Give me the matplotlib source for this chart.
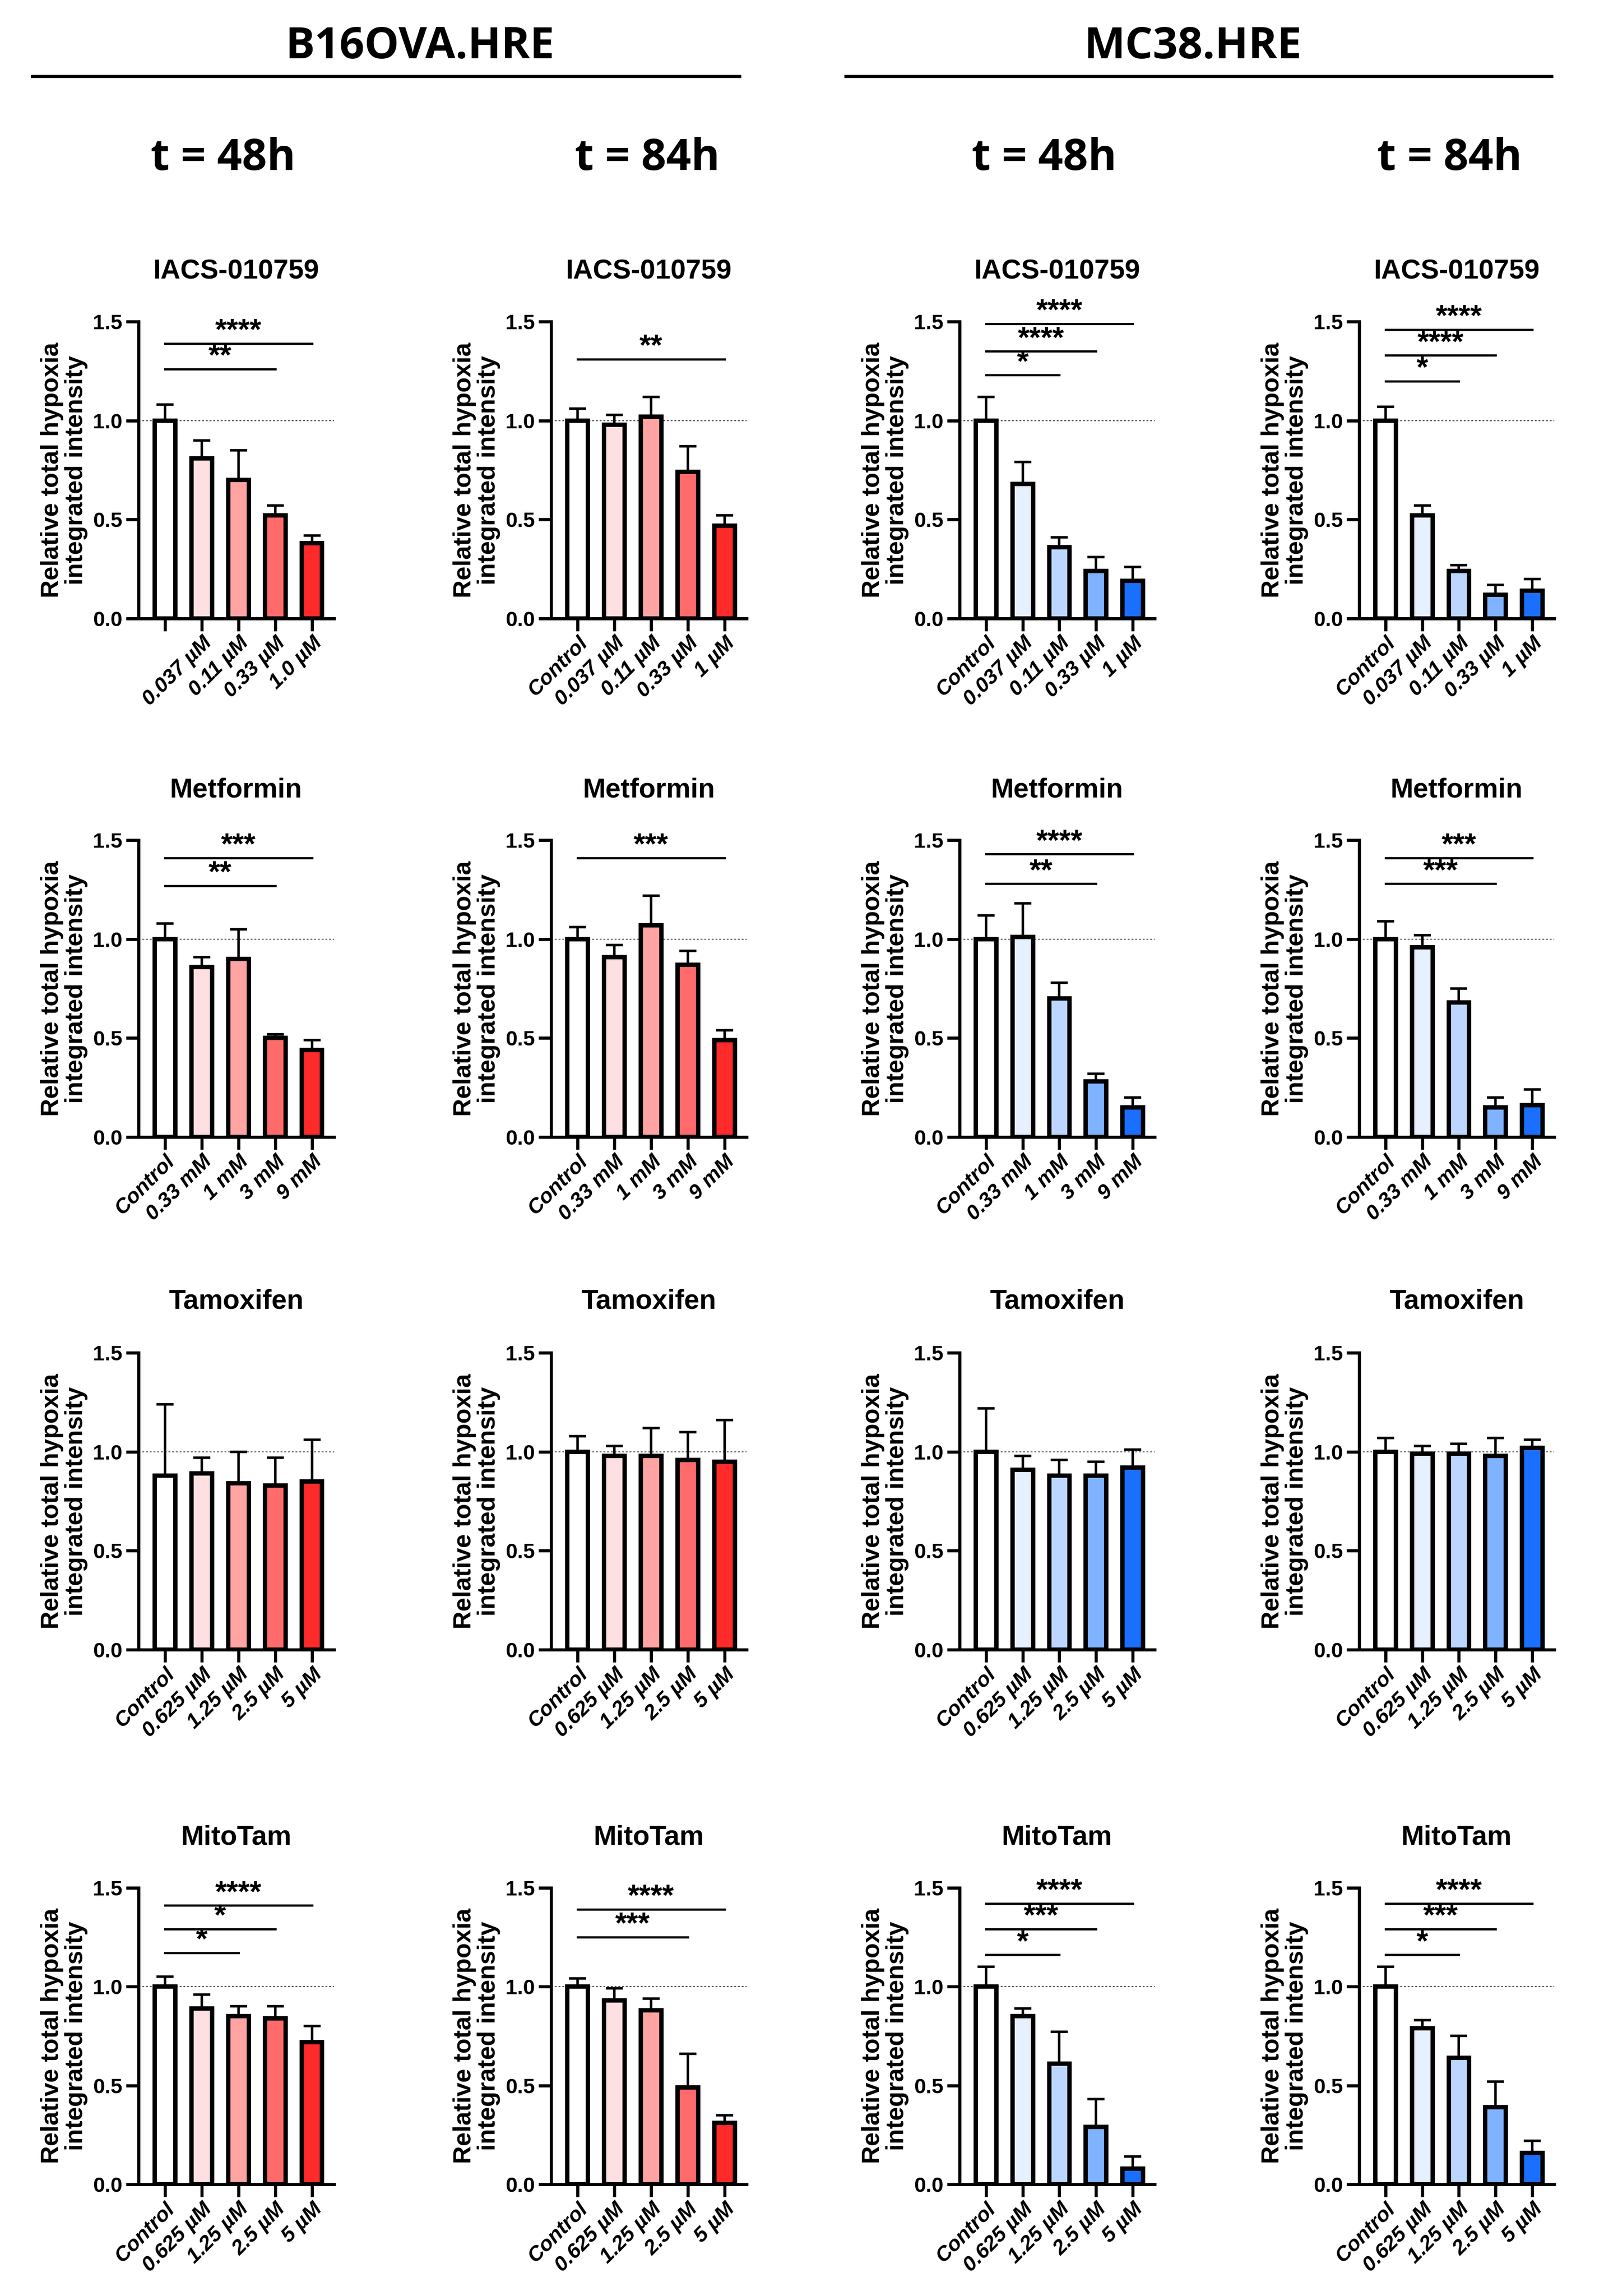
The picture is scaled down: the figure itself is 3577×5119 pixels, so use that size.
import matplotlib
matplotlib.use("Agg")
import matplotlib.pyplot as plt

NARROW = ['Liberation Sans Narrow', 'Liberation Sans', 'DejaVu Sans']
ARIAL = ['Liberation Sans', 'DejaVu Sans']

REDS = ['#ffffff', '#ffe0e2', '#ffa3a3', '#ff6b6b', '#ff2a2a']
BLUES = ['#ffffff', '#e6f0ff', '#bcd6ff', '#7fb2ff', '#1a6fff']

iacs_b16_labels = ['', '0.037 µM', '0.11 µM', '0.33 µM', '1.0 µM']
iacs_labels = ['Control', '0.037 µM', '0.11 µM', '0.33 µM', '1 µM']
met_labels = ['Control', '0.33 mM', '1 mM', '3 mM', '9 mM']
tam_labels = ['Control', '0.625 µM', '1.25 µM', '2.5 µM', '5 µM']

drugs = ['IACS-010759', 'Metformin', 'Tamoxifen', 'MitoTam']

# rows: drug, cols: B16 48h, B16 84h, MC38 48h, MC38 84h
means = [
    [[1.0, .81, .70, .52, .38], [1.0, .98, 1.02, .74, .47],
     [1.0, .68, .36, .24, .19], [1.0, .52, .24, .12, .14]],
    [[1.0, .86, .90, .50, .44], [1.0, .91, 1.07, .87, .49],
     [1.0, 1.01, .70, .28, .15], [1.0, .96, .68, .15, .16]],
    [[.88, .89, .84, .83, .85], [1.0, .98, .98, .96, .95],
     [1.0, .91, .88, .88, .92], [1.0, .99, .99, .98, 1.02]],
    [[1.0, .89, .85, .84, .72], [1.0, .93, .88, .49, .31],
     [1.0, .85, .61, .29, .08], [1.0, .79, .64, .39, .16]],
]
errs = [
    [[.08, .09, .15, .05, .04], [.06, .05, .10, .13, .05],
     [.12, .11, .05, .07, .07], [.07, .05, .03, .05, .06]],
    [[.08, .05, .15, .02, .05], [.06, .06, .15, .07, .05],
     [.12, .17, .08, .04, .05], [.09, .06, .07, .05, .08]],
    [[.36, .08, .16, .14, .21], [.08, .05, .14, .14, .21],
     [.22, .07, .08, .07, .09], [.07, .04, .05, .09, .04]],
    [[.05, .07, .05, .06, .08], [.04, .06, .06, .17, .04],
     [.10, .04, .16, .14, .06], [.10, .04, .11, .13, .06]],
]
# significance: (end bar, y, stars), all start from bar 0
sigs = [
    [[(4, 1.39, '****'), (3, 1.26, '**')], [(4, 1.31, '**')],
     [(4, 1.49, '****'), (3, 1.35, '****'), (2, 1.23, '*')],
     [(4, 1.46, '****'), (3, 1.33, '****'), (2, 1.20, '*')]],
    [[(4, 1.41, '***'), (3, 1.27, '**')], [(4, 1.41, '***')],
     [(4, 1.43, '****'), (3, 1.28, '**')],
     [(4, 1.41, '***'), (3, 1.28, '***')]],
    [[], [], [], []],
    [[(4, 1.41, '****'), (3, 1.29, '*'), (2, 1.17, '*')],
     [(4, 1.39, '****'), (3, 1.25, '***')],
     [(4, 1.42, '****'), (3, 1.29, '***'), (2, 1.16, '*')],
     [(4, 1.42, '****'), (3, 1.29, '***'), (2, 1.16, '*')]],
]
row_labels = [[iacs_b16_labels, iacs_labels, iacs_labels, iacs_labels],
              [met_labels] * 4, [tam_labels] * 4, [tam_labels] * 4]

W, H = 1100.0, 1563.0
col_x = [95, 378, 658, 932]
row_top = [219, 572, 921, 1285]
ax_w, ax_h = 134, 202
title_y = [185, 538, 886, 1251]

fig = plt.figure(figsize=(35.77, 51.19), dpi=100)

for r in range(4):
    for c in range(4):
        left = col_x[c] / W
        bottom = 1 - (row_top[r] + ax_h) / H
        ax = fig.add_axes([left, bottom, ax_w / W, ax_h / H])
        cols = REDS if c < 2 else BLUES
        x = range(5)
        ax.bar(x, means[r][c], 0.56, color=cols, edgecolor='black',
               linewidth=7, zorder=3)
        ax.errorbar(x, means[r][c], yerr=[[0] * 5, errs[r][c]], fmt='none',
                    ecolor='black', elinewidth=4, capsize=14, capthick=4,
                    zorder=2)
        ax.axhline(1.0, color='#444444', ls=(0, (2, 2)), lw=1.5, zorder=1)
        for end, y, s in sigs[r][c]:
            ax.plot([0, end], [y, y], color='black', lw=3.5, clip_on=False)
            ax.text(end / 2, y - 0.01, s, ha='center', va='bottom',
                    fontsize=48, fontweight='bold', family=ARIAL)
        ax.set_xlim(-0.72, 4.6)
        ax.set_ylim(0, 1.5)
        ax.set_yticks([0, 0.5, 1.0, 1.5])
        ax.set_yticklabels(['0.0', '0.5', '1.0', '1.5'])
        ax.set_xticks(list(x))
        ax.set_xticklabels(row_labels[r][c], rotation=45, ha='right',
                           rotation_mode='anchor', fontstyle='italic')
        for lab in ax.get_xticklabels() + ax.get_yticklabels():
            lab.set_family(NARROW)
            lab.set_fontweight('bold')
            lab.set_fontsize(34)
        ax.tick_params(axis='both', width=5, length=20, direction='out')
        ax.tick_params(axis='y', pad=6)
        ax.spines['top'].set_visible(False)
        ax.spines['right'].set_visible(False)
        ax.spines['left'].set_linewidth(5)
        ax.spines['bottom'].set_linewidth(5)
        ax.set_ylabel('Relative total hypoxia\nintegrated intensity',
                      fontsize=40, fontweight='bold', family=ARIAL,
                      labelpad=8, linespacing=1.05)
        fig.text((col_x[c] + ax_w / 2) / W, 1 - title_y[r] / H,
                 drugs[r], ha='center', va='center', fontsize=44,
                 fontweight='bold', family=ARIAL)

# headers
for name, xc, x0, x1 in [('B16OVA.HRE', 288, 22, 507),
                         ('MC38.HRE', 818, 580, 1064)]:
    fig.text(xc / W, 1 - 32 / H, name, ha='center', va='center',
             fontsize=70, fontweight='bold', family=['Open Sans', 'DejaVu Sans'])
    fig.add_artist(plt.Line2D([x0 / W, x1 / W], [1 - 52 / H, 1 - 52 / H],
                              color='black', lw=5))
for tx, lab in zip([153, 444, 716, 994], ['t = 48h', 't = 84h', 't = 48h', 't = 84h']):
    fig.text(tx / W, 1 - 108 / H, lab, ha='center', va='center',
             fontsize=70, fontweight='bold', family=['Open Sans', 'DejaVu Sans'])

fig.savefig('out.png', dpi=100, facecolor='white')
